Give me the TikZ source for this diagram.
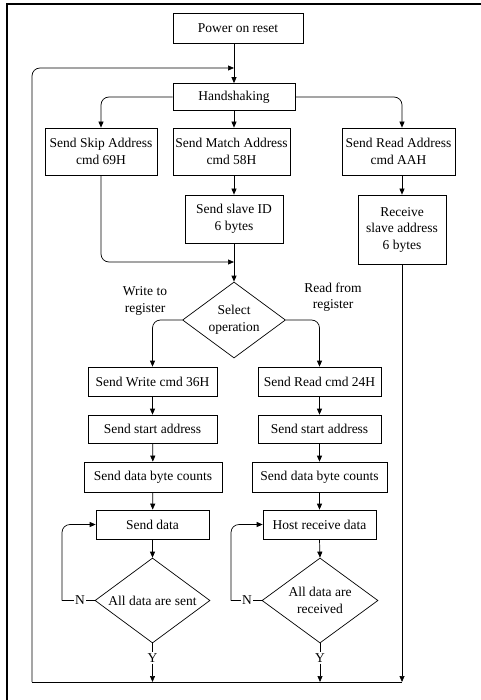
\documentclass[tikz,border=0pt]{standalone}
\usepackage{fontspec}
\setmainfont{Liberation Serif}
\newfontfamily\flowfam{Liberation Serif}
\usetikzlibrary{shapes.geometric,arrows.meta}
\newcommand\flowfont{\flowfam\fontsize{13.5}{16.5}\selectfont}
\begin{document}
\begin{tikzpicture}[x=1pt,y=-1pt,
  box/.style={draw, line width=0.7pt, inner sep=0pt, align=center, font=\flowfont},
  dia/.style={draw, diamond, line width=0.7pt, inner sep=0pt},
  lbl/.style={align=center, font=\flowfont, inner sep=1pt},
  arr/.style={line width=0.7pt, -{Triangle[length=6pt,width=5pt]}},
  ln/.style={line width=0.7pt},
  rc/.style={rounded corners=8pt}]
\useasboundingbox (0,0) rectangle (480,700);
% frame
\draw[line width=2pt] (6.5,702) -- (6.5,4.5) -- (482,4.5);

% nodes
\node[box, minimum width=130pt, minimum height=30pt] (por) at (238,28) {Power on reset};
\node[box, minimum width=122pt, minimum height=27pt] (hs) at (234,97) {Handshaking};
\node[box, minimum width=112pt, minimum height=47pt] (skip) at (101,151.5) {Send Skip Address\\cmd 69H};
\node[box, minimum width=117pt, minimum height=47pt] (match) at (231.5,151.5) {Send Match Address\\cmd 58H};
\node[box, minimum width=113pt, minimum height=47pt] (raddr) at (398.5,151.5) {Send Read Address\\cmd AAH};
\node[box, minimum width=98pt, minimum height=48pt] (sid) at (234,219) {Send slave ID\\6 bytes};
\node[box, minimum width=88pt, minimum height=69pt] (recv) at (402,229.5) {Receive\\slave address\\6 bytes};

\node[dia, minimum width=103pt, minimum height=76pt] (sel) at (234,320) {};
\node[lbl] (seltxt) at (sel.center) {Select\\operation};
\node[lbl] (wlab) at (145,301) {Write to\\register};
\node[lbl] (rlab) at (333,297) {Read from\\register};

\node[box, minimum width=129pt, minimum height=29pt] (wcmd) at (152.5,381.5) {Send Write cmd 36H};
\node[box, minimum width=123pt, minimum height=29pt] (rcmd) at (319.5,381.5) {Send Read cmd 24H};
\node[box, minimum width=129pt, minimum height=28pt] (wsa) at (152.5,429) {Send start address};
\node[box, minimum width=123pt, minimum height=28pt] (rsa) at (319.5,429) {Send start address};
\node[box, minimum width=138pt, minimum height=30pt] (wcnt) at (153,477) {Send data byte counts};
\node[box, minimum width=135pt, minimum height=30pt] (rcnt) at (319.5,477) {Send data byte counts};
\node[box, minimum width=113pt, minimum height=29pt] (wdata) at (152.5,524.5) {Send data};
\node[box, minimum width=113pt, minimum height=29pt] (rdata) at (319.5,524.5) {Host receive data};

\node[dia, minimum width=115pt, minimum height=85pt] (wall) at (152.5,600.5) {};
\node[lbl] (walltxt) at (wall.center) {All data are sent};
\node[dia, minimum width=116pt, minimum height=85pt] (rall) at (320,600.5) {};
\node[lbl] (ralltxt) at (rall.center) {All data are\\received};

\node[lbl] (wN) at (80,600.5) {N};
\node[lbl] (rN) at (247,600.5) {N};
\node[lbl] (wY) at (152.5,658) {Y};
\node[lbl] (rY) at (320,658) {Y};

\coordinate (bl) at (32,682);
\coordinate (m1) at (234,68);
\coordinate (m2) at (234,262);
\coordinate (wNc) at (62,600.5);
\coordinate (rNc) at (231,600.5);

% connectors
\draw[arr] (por.south -| hs.north) -- (hs.north);
\draw[arr, rc] (hs.west) -| (skip.north);
\draw[arr] (hs.south) -- (hs.south |- match.north);
\draw[arr, rc] (hs.east) -| (recv.north |- raddr.north);
\draw[arr] (match.south -| sid.north) -- (sid.north);
\draw[arr] (raddr.south -| recv.north) -- (recv.north);
\draw[arr, rc] (skip.south) |- (m2);
\draw[arr] (sid.south) -- (sel.north);
\draw[arr, rc] (sel.west) -| (wcmd.north);
\draw[arr, rc] (sel.east) -| (rcmd.north);
\draw[arr] (wcmd) -- (wsa);
\draw[arr] (wsa) -- (wcnt);
\draw[arr] (wcnt) -- (wdata);
\draw[arr] (wdata.south) -- (wall.north);
\draw[arr] (rcmd) -- (rsa);
\draw[arr] (rsa) -- (rcnt);
\draw[arr] (rcnt) -- (rdata);
\draw[arr] (rdata.south) -- (rall.north);

\draw[ln] (wall.west) -- (wN.east);
\draw[ln] (wN.west) -- (wNc);
\draw[arr, rc] (wNc) |- (wdata.west);
\draw[ln] (rall.west) -- (rN.east);
\draw[ln] (rN.west) -- (rNc);
\draw[arr, rc] (rNc) |- (rdata.west);

\draw[ln] (wall.south) -- (wY.north);
\draw[arr] (wY.south) -- (wY.south |- bl);
\draw[ln] (rall.south) -- (rY.north);
\draw[arr] (rY.south) -- (rY.south |- bl);
\draw[arr] (recv.south) -- (recv.south |- bl);
\draw[ln] (bl) -- (recv.south |- bl);
\draw[arr, rc] (bl) -- (32,68) -- (m1);
\end{tikzpicture}
\end{document}
